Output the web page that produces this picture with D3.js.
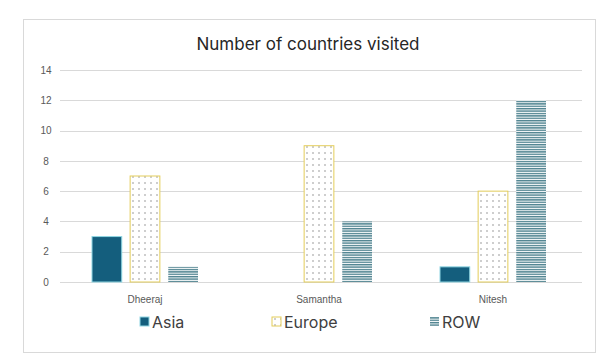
<!DOCTYPE html>
<html lang="en">
<head>
    <meta charset="utf-8">
    <style>
        body { margin: 0; background: #fff; font-family: "Inter", "Liberation Sans", sans-serif; }
        .grid line { stroke: #d9d9d9; }
        .axis text { fill: #595959; font-size: 10px; }
    </style>
</head>
<body>
    <svg width="615" height="363"></svg>
    <script src="https://cdn.jsdelivr.net/npm/d3@7"></script>
    <script>
        // data
        var people = ["Dheeraj", "Samantha", "Nitesh"];
        var series = ["Asia", "Europe", "ROW"];
        var asia = [3, 0, 1];
        var europe = [7, 9, 6];
        var row = [1, 4, 12];
        var yTicks = [0, 2, 4, 6, 8, 10, 12, 14];

        var values = { Asia: asia, Europe: europe, ROW: row };

        var svg = d3.select("svg");

        // patterns for the bar fills
        var defs = svg.append("defs");
        var dots = defs.append("pattern")
            .attr("id", "dots")
            .attr("patternUnits", "userSpaceOnUse")
            .attr("width", 6).attr("height", 6);
        dots.append("rect").attr("width", 6).attr("height", 6).attr("fill", "#fff");
        dots.append("circle").attr("cx", 3).attr("cy", 3).attr("r", 0.7).attr("fill", "#777");

        var stripes = defs.append("pattern")
            .attr("id", "stripes")
            .attr("patternUnits", "userSpaceOnUse")
            .attr("width", 4).attr("height", 2.4);
        stripes.append("rect").attr("width", 4).attr("height", 2.4).attr("fill", "#fff");
        stripes.append("rect").attr("width", 4).attr("height", 1.4).attr("fill", "#4f8390");

        var style = {
            Asia: { fill: "#145e7d", stroke: "#8fd6e3" },
            Europe: { fill: "url(#dots)", stroke: "#e3cd5a" },
            ROW: { fill: "url(#stripes)", stroke: "none" }
        };

        // outer frame
        svg.append("rect")
            .attr("x", 23.5).attr("y", 19.5)
            .attr("width", 572).attr("height", 333)
            .attr("fill", "#fff").attr("stroke", "#d9d9d9");

        svg.append("text")
            .attr("x", 308).attr("y", 50)
            .attr("text-anchor", "middle")
            .attr("font-size", "17px")
            .attr("fill", "#262626")
            .text("Number of countries visited");

        var x0 = d3.scaleBand()
            .domain(people)
            .range([58, 580]);

        var x1 = d3.scaleBand()
            .domain(series)
            .range([x0.bandwidth() / 2 - 53, x0.bandwidth() / 2 + 53])
            .paddingInner(0.22);

        var y = d3.scaleLinear()
            .domain([0, 14])
            .range([282, 70]);

        // gridlines
        svg.append("g")
            .attr("class", "grid")
            .selectAll("line")
            .data(yTicks)
            .enter().append("line")
            .attr("x1", 60).attr("x2", 582)
            .attr("y1", function (d) { return Math.round(y(d)) + 0.5; })
            .attr("y2", function (d) { return Math.round(y(d)) + 0.5; });

        svg.append("g")
            .attr("class", "axis")
            .attr("transform", "translate(50,0)")
            .call(d3.axisLeft(y).tickValues(yTicks).tickSize(0).tickPadding(0))
            .call(function (g) { g.select(".domain").remove(); })
            .selectAll("text").attr("x", -4).attr("text-anchor", "middle");

        // bars
        var groups = svg.append("g")
            .selectAll("g")
            .data(people)
            .enter().append("g")
            .attr("transform", function (d) { return "translate(" + x0(d) + ",0)"; });

        groups.selectAll("rect")
            .data(function (p, i) {
                return series.map(function (s) { return { key: s, value: values[s][i] }; });
            })
            .enter().filter(function (d) { return d.value > 0; })
            .append("rect")
            .attr("x", function (d) { return x1(d.key); })
            .attr("width", x1.bandwidth())
            .attr("y", function (d) { return y(d.value); })
            .attr("height", function (d) { return y(0) - y(d.value); })
            .attr("fill", function (d) { return style[d.key].fill; })
            .attr("stroke", function (d) { return style[d.key].stroke; })
            .attr("stroke-width", 1);

        // category labels
        svg.append("g")
            .attr("class", "axis")
            .attr("transform", "translate(0,282)")
            .call(d3.axisBottom(x0).tickSize(0).tickPadding(14))
            .call(function (g) { g.select(".domain").remove(); })
            .selectAll("text").attr("font-size", "11px").attr("fill", "#404040");

        // legend
        var legendX = [140, 272, 430];
        var legend = svg.append("g")
            .selectAll("g")
            .data(series)
            .enter().append("g")
            .attr("transform", function (d, i) { return "translate(" + legendX[i] + ",322)"; });

        legend.append("rect")
            .attr("x", 0).attr("y", -5)
            .attr("width", 9).attr("height", 9)
            .attr("fill", function (d) { return style[d].fill; })
            .attr("stroke", function (d) { return style[d].stroke; });

        legend.append("text")
            .attr("x", 12).attr("y", 0)
            .attr("dy", "0.35em")
            .attr("font-size", "16px")
            .attr("fill", "#404040")
            .text(function (d) { return d; });
    </script>
</body>
</html>
